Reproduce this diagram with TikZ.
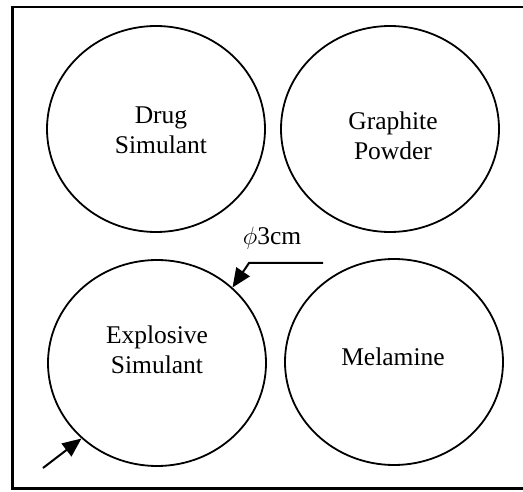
\documentclass[tikz,border=0pt]{standalone}
\usepackage{fontspec}
\setmainfont{Liberation Serif}
\usepackage{tikz}
\usetikzlibrary{shapes.geometric, arrows.meta}

\begin{document}
\begin{tikzpicture}[x=1pt, y=-1pt,
  dish/.style={ellipse, draw, line width=1.8pt, minimum width=218pt, minimum height=206pt, inner sep=0pt},
  lbl/.style={align=center, font=\fontsize{25.5}{30}\selectfont},
  pointer/.style={line width=2pt, -{Triangle[length=19pt, width=16pt]}}]
\useasboundingbox (0,0) rectangle (523,492);
\draw[line width=1.8pt] (523,7) -- (12,7);
\draw[line width=3pt] (12,6) -- (12,488) -- (523,488);
\node[dish] (drug) at (156,129) {};
\node[dish] (graph) at (390,129) {};
\node[dish] (expl) at (157,363) {};
\node[dish] (mela) at (394,362) {};
\node[lbl] (druglbl) at (161,130) {Drug\\Simulant};
\node[lbl] (graphlbl) at (393,136) {Graphite\\Powder};
\node[lbl] (expllbl) at (157,350) {Explosive\\Simulant};
\node[lbl] (melalbl) at (393,357) {Melamine};
\node[lbl] (dimlbl) at (272,238) {$\phi$3cm};
\coordinate (dimstart) at (323,263);
\coordinate (dimbend) at (249,263);
\coordinate (outer) at (43,468);
\draw[pointer] (dimstart) -- (dimbend) -- (expl.45);
\draw[pointer] (outer) -- (expl.225);
\end{tikzpicture}
\end{document}
